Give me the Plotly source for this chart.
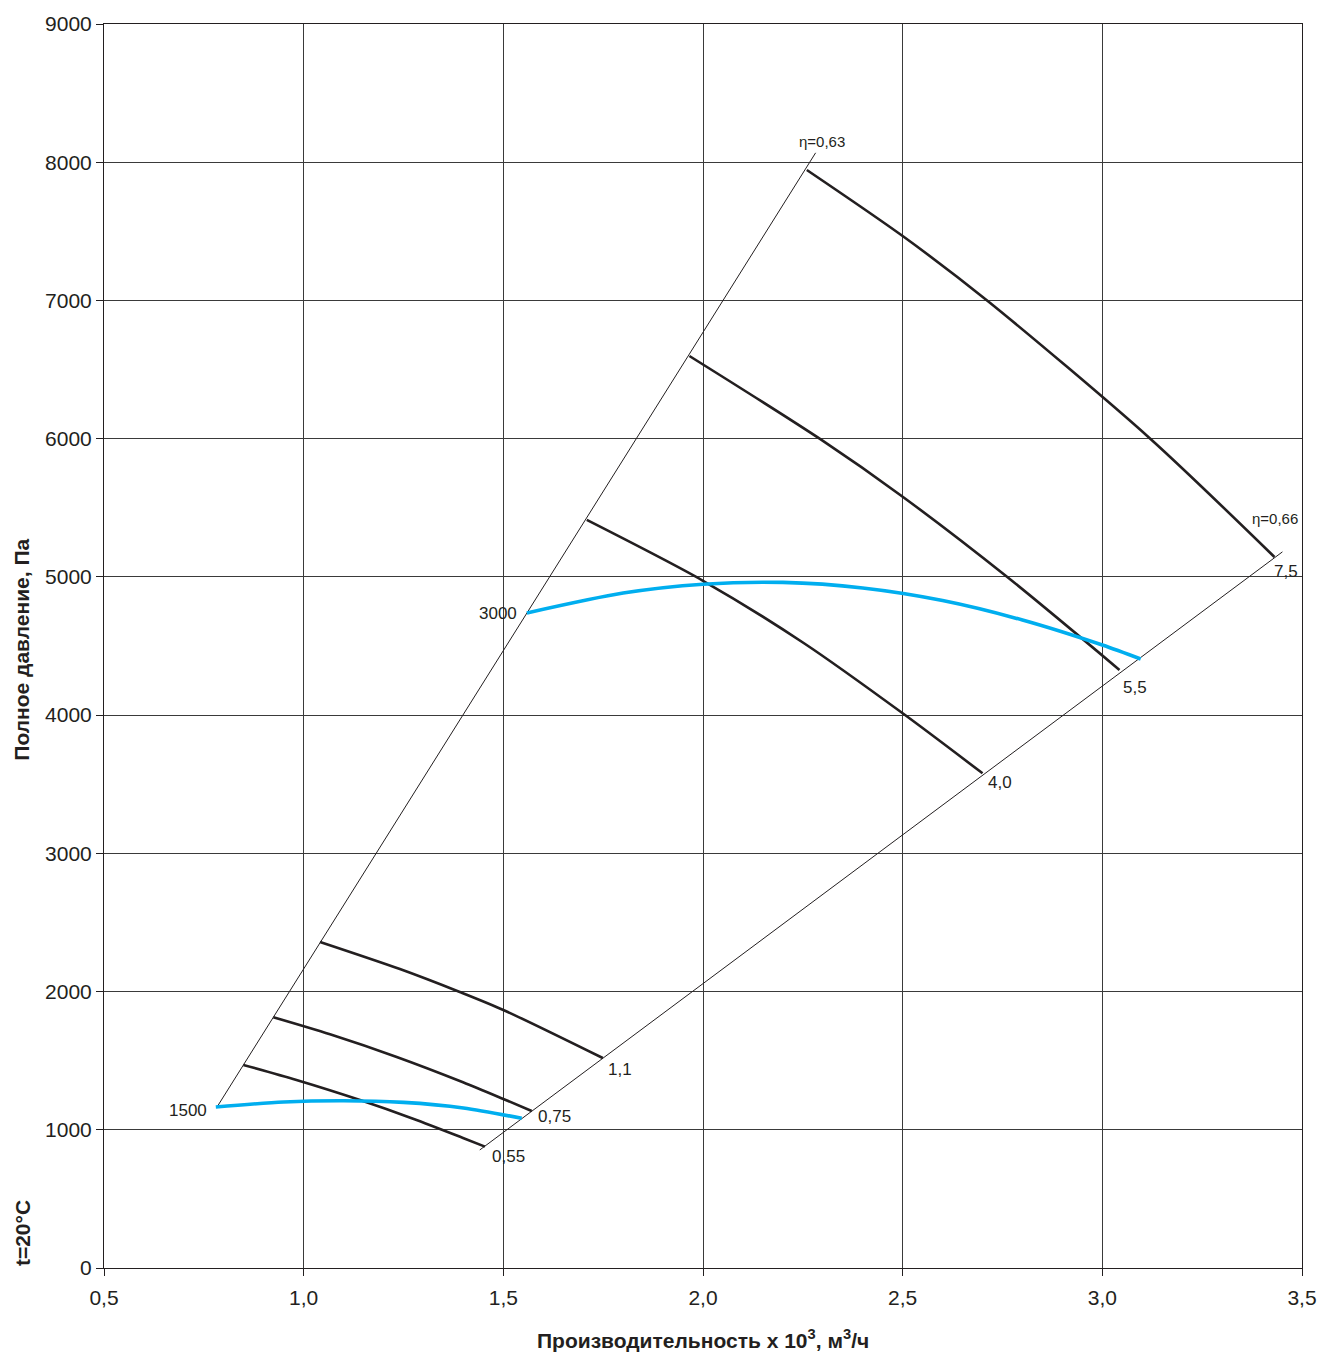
import plotly.graph_objects as go

# ---- data ----
# boundary lines (efficiency limits)
eta_left_x = [0.782, 2.282]
eta_left_y = [1160, 8068]
eta_right_x = [1.441, 3.451]
eta_right_y = [854, 5181]

# motor power curves (kW)
c75_x = [2.260, 2.500, 2.713, 3.118, 3.431]
c75_y = [7944, 7466, 6996, 6005, 5144]
c55_x = [1.966, 2.293, 2.500, 2.762, 3.043]
c55_y = [6598, 5998, 5580, 4999, 4327]
c40_x = [1.709, 2.000, 2.253, 2.500, 2.700]
c40_y = [5412, 4972, 4520, 4013, 3579]
c11_x = [1.041, 1.241, 1.391, 1.500, 1.749]
c11_y = [2359, 2163, 1997, 1867, 1519]
c075_x = [0.924, 1.066, 1.233, 1.399, 1.500, 1.571]
c075_y = [1814, 1691, 1527, 1344, 1223, 1136]
c055_x = [0.849, 0.982, 1.141, 1.274, 1.399, 1.454]
c055_y = [1469, 1360, 1215, 1080, 941, 878]

# rotation speed curves (rpm)
n1500_x = [0.780, 0.950, 1.100, 1.250, 1.400, 1.546]
n1500_y = [1165, 1201, 1210, 1198, 1158, 1083]
n3000_x = [1.559, 1.800, 2.000, 2.200, 2.400, 2.600, 2.800, 3.000, 3.096]
n3000_y = [4739, 4883, 4947, 4960, 4920, 4829, 4688, 4507, 4406]

x_ticks = [0.5, 1.0, 1.5, 2.0, 2.5, 3.0, 3.5]
x_ticktext = ["0,5", "1,0", "1,5", "2,0", "2,5", "3,0", "3,5"]
y_ticks = [0, 1000, 2000, 3000, 4000, 5000, 6000, 7000, 8000, 9000]
y_ticktext = [str(v) for v in y_ticks]

labels = [
    ("η=0,63", 2.297, 8148, 15),
    ("η=0,66", 3.433, 5420, 15),
    ("7,5", 3.461, 5036, 17),
    ("5,5", 3.081, 4197, 17),
    ("4,0", 2.743, 3509, 17),
    ("1,1", 1.792, 1433, 17),
    ("0,75", 1.629, 1093, 17),
    ("0,55", 1.514, 810, 17),
    ("3000", 1.486, 4732, 17),
    ("1500", 0.710, 1143, 17),
]

BLACK = "#231f20"
BLUE = "#00aeef"
FONT = "Liberation Sans, Arial, sans-serif"

fig = go.Figure()

for xs, ys in [(eta_left_x, eta_left_y), (eta_right_x, eta_right_y)]:
    fig.add_trace(go.Scatter(x=xs, y=ys, mode="lines",
                             line=dict(color=BLACK, width=1), showlegend=False,
                             hoverinfo="skip"))

for xs, ys in [(c75_x, c75_y), (c55_x, c55_y), (c40_x, c40_y),
               (c11_x, c11_y), (c075_x, c075_y), (c055_x, c055_y)]:
    fig.add_trace(go.Scatter(x=xs, y=ys, mode="lines",
                             line=dict(color=BLACK, width=2.6, shape="spline", smoothing=0.8),
                             showlegend=False))

for xs, ys in [(n1500_x, n1500_y), (n3000_x, n3000_y)]:
    fig.add_trace(go.Scatter(x=xs, y=ys, mode="lines",
                             line=dict(color=BLUE, width=3.6, shape="spline", smoothing=0.8),
                             showlegend=False))

annotations = []
for txt, x, y, s in labels:
    annotations.append(dict(text=txt, x=x, y=y, xref="x", yref="y", showarrow=False,
                            font=dict(family=FONT, size=s, color=BLACK)))

title_font = dict(family=FONT, size=21, color=BLACK, weight="bold")
annotations.append(dict(text="Производительность х 10<sup>3</sup>, м<sup>3</sup>/ч",
                        xref="paper", yref="paper", x=0.5, y=-0.057,
                        xanchor="center", yanchor="middle", showarrow=False,
                        font=title_font))
annotations.append(dict(text="Полное давление, Па", xref="paper", yref="paper",
                        x=-0.0685, y=0.497, xanchor="center", yanchor="middle",
                        textangle=-90, showarrow=False, font=title_font))
annotations.append(dict(text="t=20°C", xref="paper", yref="paper",
                        x=-0.0685, y=0.028, xanchor="center", yanchor="middle",
                        textangle=-90, showarrow=False, font=title_font))

fig.update_layout(
    width=1321, height=1353,
    margin=dict(l=104, r=19, t=24, b=85, autoexpand=False),
    paper_bgcolor="white", plot_bgcolor="white",
    font=dict(family=FONT, color=BLACK),
    annotations=annotations,
    hovermode=False,
    xaxis=dict(range=[0.5, 3.5], tickvals=x_ticks, ticktext=x_ticktext,
               showgrid=True, gridcolor="#3a3a3a", gridwidth=1,
               showline=True, linecolor=BLACK, linewidth=1, mirror=True,
               ticks="outside", ticklen=7, tickcolor=BLACK, automargin=False,
               ticklabelstandoff=4,
               tickfont=dict(size=21, family=FONT, color=BLACK), zeroline=False),
    yaxis=dict(range=[0, 9000], tickvals=y_ticks, ticktext=y_ticktext,
               showgrid=True, gridcolor="#3a3a3a", gridwidth=1,
               showline=True, linecolor=BLACK, linewidth=1, mirror=True,
               ticks="outside", ticklen=7, tickcolor=BLACK, automargin=False,
               tickfont=dict(size=21, family=FONT, color=BLACK), zeroline=False),
)

# remove the default page margin so the figure fills the window exactly
fig.write_html("out.html",
               config={"displayModeBar": False},
               post_script="document.body.style.margin='0';"
                           "document.body.style.overflow='hidden';")
